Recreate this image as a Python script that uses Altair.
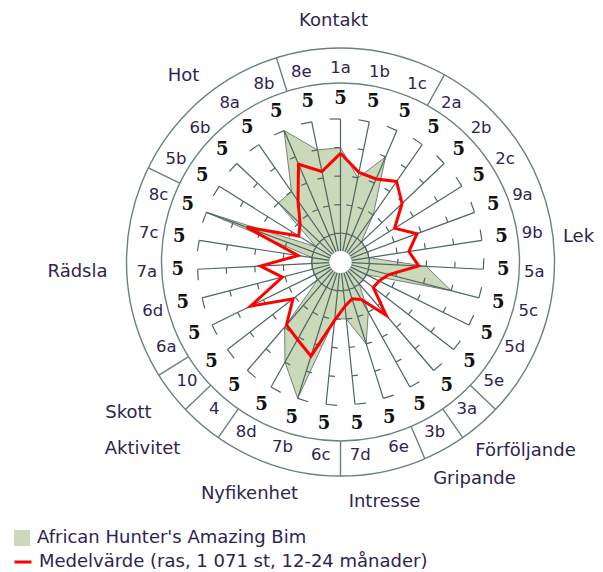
import math
import altair as alt
import pandas as pd

# ---------------- data ----------------
items = ["1a", "1b", "1c", "2a", "2b", "2c", "9a", "9b", "5a", "5c", "5d", "5e",
         "3a", "3b", "6e", "7d", "6c", "7b", "8d", "4", "10", "6a", "6d", "7a",
         "7c", "8c", "5b", "6b", "8a", "8b", "8e"]
bim = [4, 3, 4, 2, 1, 1, 1, 1, 3, 4, 1, 1,
       1, 2, 3, 2, 2, 5, 4, 3, 1, 1, 1, 1,
       1, 5, 1, 3, 3, 5, 4]
medel = [3.8, 3.2, 3.16, 3.43, 2.97, 2.23, 2.85, 2.42, 2.74, 1.75, 1.5, 1.45,
         2.45, 1.5, 1.35, 1.55, 2.05, 3.45, 3.1, 2.9, 2.1, 3.5, 2.1, 2.8,
         1.5, 3.5, 1.72, 1.95, 2.6, 3.72, 3.23]
group_names = ["Kontakt", "Lek", "Förföljande", "Gripande", "Intresse",
               "Nyfikenhet", "Aktivitet", "Skott", "Rädsla", "Hot"]
group_sizes = [4, 9, 1, 1, 2, 3, 1, 1, 5, 4]   # consecutive items, starting at "8e"
scale_max = 5
series_bim = "African Hunter's Amazing Bim"
series_medel = "Medelvärde (ras, 1 071 st, 12-24 månader)"

# ---------------- layout ----------------
W, H = 587, 564
CX, CY = 340.5, 262.0
N = len(items)
STEP = 360.0 / N
K = 28.6
R_HOLE = 11
R_IN, R_OUT = 179, 214
R_FIVE = 163
R_ITEM = 194
TEXT_COL = "#2e2452"
LINE_COL = "#4d6562"
RING_COL = "#6a817e"
FONT = "DejaVu Sans"

# label offsets (px, y up) of group names relative to the centre
group_label_pos = [(-7, 241), (238, 25), (185, -189), (134, -217), (44, -240),
                   (-91, -232), (-198, -187), (-212, -151), (-263, -10), (-157, 186)]


def pol(r, deg):
    a = math.radians(deg)
    return r * math.sin(a), r * math.cos(a)


xs = alt.Scale(domain=[8 - CX, 8 + W - CX], nice=False, zero=False)
ys = alt.Scale(domain=[CY - 8 - H, CY - 8], nice=False, zero=False)
X = lambda f: alt.X(f, type="quantitative", scale=xs, axis=None)
Y = lambda f: alt.Y(f, type="quantitative", scale=ys, axis=None)

# rings (symbol size = (diameter)^2)
rings = pd.DataFrame({"x": [0, 0], "y": [0, 0], "s": [(2 * R_IN) ** 2, (2 * R_OUT) ** 2]})
ring_layer = alt.Chart(rings).mark_point(shape="circle", filled=False, color=RING_COL,
                                         strokeWidth=1.4, opacity=1).encode(
    x=X("x"), y=Y("y"), size=alt.Size("s:Q", scale=None, legend=None))

# group dividers
rows = []
start = N - 1
for gs in group_sizes:
    ang = (start - 0.5) * STEP
    x1, y1 = pol(R_IN, ang)
    x2, y2 = pol(R_OUT, ang)
    rows.append({"x": x1, "y": y1, "x2": x2, "y2": y2})
    start = (start + gs) % N
div_layer = alt.Chart(pd.DataFrame(rows)).mark_rule(color=RING_COL, strokeWidth=1.4).encode(
    x=X("x"), y=Y("y"), x2="x2:Q", y2="y2:Q")

# spokes and ticks
sp, tk = [], []
for i in range(N):
    ang = i * STEP
    x1, y1 = pol(R_HOLE, ang)
    x2, y2 = pol(scale_max * K, ang)
    sp.append({"x": x1, "y": y1, "x2": x2, "y2": y2})
    a = math.radians(ang)
    cx, cy = -math.cos(a), math.sin(a)
    for v in range(1, scale_max + 1):
        px, py = pol(v * K, ang)
        L = 11 if v == scale_max else 6
        tk.append({"x": px, "y": py, "x2": px + L * cx, "y2": py + L * cy})
spoke_layer = alt.Chart(pd.DataFrame(sp)).mark_rule(color=LINE_COL, strokeWidth=1.2).encode(
    x=X("x"), y=Y("y"), x2="x2:Q", y2="y2:Q")
tick_layer = alt.Chart(pd.DataFrame(tk)).mark_rule(color=LINE_COL, strokeWidth=1.2).encode(
    x=X("x"), y=Y("y"), x2="x2:Q", y2="y2:Q")

# labels
fives, labs = [], []
for i, it in enumerate(items):
    ang = i * STEP
    x, y = pol(R_FIVE, ang)
    fives.append({"x": x, "y": y, "t": str(scale_max)})
    x, y = pol(R_ITEM, ang)
    labs.append({"x": x, "y": y, "t": it})
five_layer = alt.Chart(pd.DataFrame(fives)).mark_text(
    font="DejaVu Serif", fontWeight="bold", fontSize=18, color="#111111",
    align="center", baseline="middle").encode(x=X("x"), y=Y("y"), text="t:N")
item_layer = alt.Chart(pd.DataFrame(labs)).mark_text(
    font=FONT, fontSize=16.5, color=TEXT_COL, align="center", baseline="middle").encode(
    x=X("x"), y=Y("y"), text="t:N")
glabs = pd.DataFrame({"x": [p[0] for p in group_label_pos], "y": [p[1] for p in group_label_pos],
                      "t": group_names})
group_layer = alt.Chart(glabs).mark_text(
    font=FONT, fontSize=18, color=TEXT_COL, align="center", baseline="middle").encode(
    x=X("x"), y=Y("y"), text="t:N")

# data series
def series_df(vals, name):
    idx = list(range(N)) + [N]
    v = list(vals) + [vals[0]]
    return pd.DataFrame({"idx": idx, "v": v, "serie": name})

calc = dict(x=f"datum.v*{K}*sin(datum.idx*2*PI/{N})", y=f"datum.v*{K}*cos(datum.idx*2*PI/{N})")

bim_layer = alt.Chart(series_df(bim, series_bim)).transform_calculate(**calc).mark_line(
    stroke="#76837a", strokeWidth=1, interpolate="linear-closed").encode(
    x=X("x"), y=Y("y"), order=alt.Order("idx:Q"),
    fill=alt.Fill("serie:N", scale=alt.Scale(domain=[series_bim], range=["#cad9ba"]),
                  legend=alt.Legend(orient="none", legendX=5, legendY=521, title=None,
                                    symbolType="square", symbolSize=256, symbolStrokeWidth=0,
                                    labelFont=FONT, labelFontSize=18, labelColor=TEXT_COL,
                                    labelOffset=6, labelLimit=0, padding=0)))
medel_layer = alt.Chart(series_df(medel, series_medel)).transform_calculate(**calc).mark_line(
    strokeWidth=3).encode(
    x=X("x"), y=Y("y"), order=alt.Order("idx:Q"),
    stroke=alt.Stroke("serie:N", scale=alt.Scale(domain=[series_medel], range=["#ff0000"]),
                      legend=alt.Legend(orient="none", legendX=5, legendY=544, title=None,
                                        symbolType="stroke", symbolSize=289, symbolStrokeWidth=3,
                                        labelFont=FONT, labelFontSize=18, labelColor=TEXT_COL,
                                        labelOffset=6, labelLimit=0, padding=0)))

hole = alt.Chart(pd.DataFrame({"x": [0], "y": [0]})).mark_point(
    shape="circle", filled=True, color="white", opacity=1, size=(2 * R_HOLE) ** 2).encode(
    x=X("x"), y=Y("y"))

chart = alt.layer(
    bim_layer, spoke_layer, tick_layer, hole, medel_layer,
    ring_layer, div_layer, five_layer, item_layer, group_layer
).resolve_scale(fill="independent", stroke="independent").properties(
    width=W, height=H, padding=0, autosize=alt.AutoSizeParams(type="none")
).configure_view(stroke=None)

chart.save("out.html", embed_options={"renderer": "svg", "actions": False})
